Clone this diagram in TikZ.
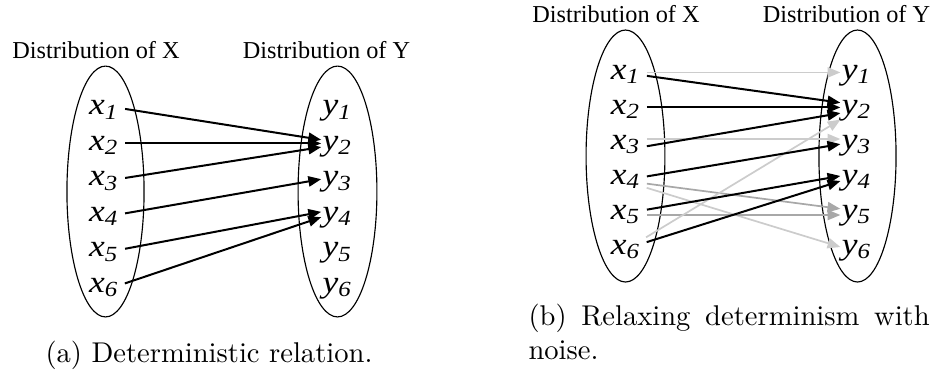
\documentclass[tikz,border=0pt]{standalone}
\usepackage{fontspec}
\newfontfamily\tnr{Liberation Serif}
\usepackage{xcolor}
\usetikzlibrary{arrows.meta}
\definecolor{noiselight}{gray}{0.80}
\definecolor{noisemid}{gray}{0.66}
\tikzset{
  varlbl/.style={inner sep=0pt, outer sep=0pt, anchor=base, xscale=1.15,
    font=\tnr\itshape\fontsize{10.8}{12}\selectfont, text height=4.6pt, text depth=0pt},
  distlbl/.style={inner sep=0pt, anchor=base, font=\tnr\fontsize{8.5}{10}\selectfont},
  mapto/.style={-{Triangle[length=4.5pt,width=3.6pt]}, line width=0.7pt, shorten <=2.2pt, shorten >=0.5pt},
  noisy/.style={mapto, line width=0.6pt, draw=noiselight},
  noisymid/.style={mapto, line width=0.6pt, draw=noisemid},
  blob/.style={draw, line width=0.4pt}
}

\begin{document}
\begin{tikzpicture}[x=0.35pt, y=-0.35pt]
\useasboundingbox (0,0) rectangle (933,372);

% (a) Deterministic relation
\node[distlbl] (atitx) at (96,58) {Distribution of X};
\node[distlbl] (atity) at (326.5,58) {Distribution of Y};
\draw[blob] (105.5,191.5) ellipse [x radius=13.5pt, y radius=43.9pt];
\draw[blob] (337.5,191.5) ellipse [x radius=13.8pt, y radius=43.9pt];

\node[varlbl] (ax1) at (104,114.5) {x\textsubscript{1}};
\node[varlbl] (ax2) at (104,150) {x\textsubscript{2}};
\node[varlbl] (ax3) at (104,185.5) {x\textsubscript{3}};
\node[varlbl] (ax4) at (104,221) {x\textsubscript{4}};
\node[varlbl] (ax5) at (104,256.5) {x\textsubscript{5}};
\node[varlbl] (ax6) at (104,292) {x\textsubscript{6}};

\node[varlbl] (ay1) at (337.5,114.5) {y\textsubscript{1}};
\node[varlbl] (ay2) at (337.5,150) {y\textsubscript{2}};
\node[varlbl] (ay3) at (337.5,185.5) {y\textsubscript{3}};
\node[varlbl] (ay4) at (337.5,221) {y\textsubscript{4}};
\node[varlbl] (ay5) at (337.5,256.5) {y\textsubscript{5}};
\node[varlbl] (ay6) at (337.5,292) {y\textsubscript{6}};

\draw[mapto] (ax1.east) -- ([yshift=1.2pt]ay2.west);
\draw[mapto] (ax2.east) -- (ay2.west);
\draw[mapto] (ax3.east) -- ([yshift=-1.2pt]ay2.west);
\draw[mapto] (ax4.east) -- (ay3.west);
\draw[mapto] (ax5.east) -- ([yshift=1pt]ay4.west);
\draw[mapto] (ax6.east) -- ([yshift=-0.8pt]ay4.west);

\node[anchor=base, inner sep=0pt] (capa) at (209,362) {(a) Deterministic relation.};

% (b) Relaxing determinism with noise
\node[distlbl] (btitx) at (616,22.7) {Distribution of X};
\node[distlbl] (btity) at (846.5,22.7) {Distribution of Y};
\draw[blob] (625.5,156) ellipse [x radius=13.8pt, y radius=44.1pt];
\draw[blob] (857.5,156) ellipse [x radius=13.5pt, y radius=44.1pt];

\node[varlbl] (bx1) at (625.8,79) {x\textsubscript{1}};
\node[varlbl] (bx2) at (625.8,114) {x\textsubscript{2}};
\node[varlbl] (bx3) at (625.8,149) {x\textsubscript{3}};
\node[varlbl] (bx4) at (625.8,184) {x\textsubscript{4}};
\node[varlbl] (bx5) at (625.8,219) {x\textsubscript{5}};
\node[varlbl] (bx6) at (625.8,254) {x\textsubscript{6}};

\node[varlbl] (by1) at (856.7,79) {y\textsubscript{1}};
\node[varlbl] (by2) at (856.7,114) {y\textsubscript{2}};
\node[varlbl] (by3) at (856.7,149) {y\textsubscript{3}};
\node[varlbl] (by4) at (856.7,184) {y\textsubscript{4}};
\node[varlbl] (by5) at (856.7,219) {y\textsubscript{5}};
\node[varlbl] (by6) at (856.7,254) {y\textsubscript{6}};

% noise first, so the black map lies on top
\draw[noisy] (bx1.east) -- (by1.west);
\draw[noisy] ([yshift=1.2pt]bx3.east) -- ([yshift=1.2pt]by3.west);
\draw[noisymid] ([yshift=-1.9pt]bx4.east) -- ([yshift=1.2pt]by5.west);
\draw[noisy] ([yshift=-3pt]bx4.east) -- (by6.west);
\draw[noisymid] ([yshift=-0.9pt]bx5.east) -- ([yshift=-0.9pt]by5.west);
\draw[noisy] ([yshift=2.4pt]bx6.east) -- ([yshift=-4pt]by2.west);

\draw[mapto] ([yshift=-0.9pt]bx1.east) -- ([yshift=1.6pt]by2.west);
\draw[mapto] (bx2.east) -- (by2.west);
\draw[mapto] ([yshift=-1.7pt]bx3.east) -- ([yshift=-1.9pt]by2.west);
\draw[mapto] (bx4.east) -- ([yshift=-0.5pt]by3.west);
\draw[mapto] ([yshift=0.6pt]bx5.east) -- ([yshift=0.6pt]by4.west);
\draw[mapto] ([yshift=1.2pt]bx6.east) -- ([yshift=-1.1pt]by4.west);

\node[anchor=base west, inner sep=0pt, text width=140.4pt, align=justify] (capb) at (528,325)
  {(b) Relaxing determinism with noise.};

\end{tikzpicture}
\end{document}
